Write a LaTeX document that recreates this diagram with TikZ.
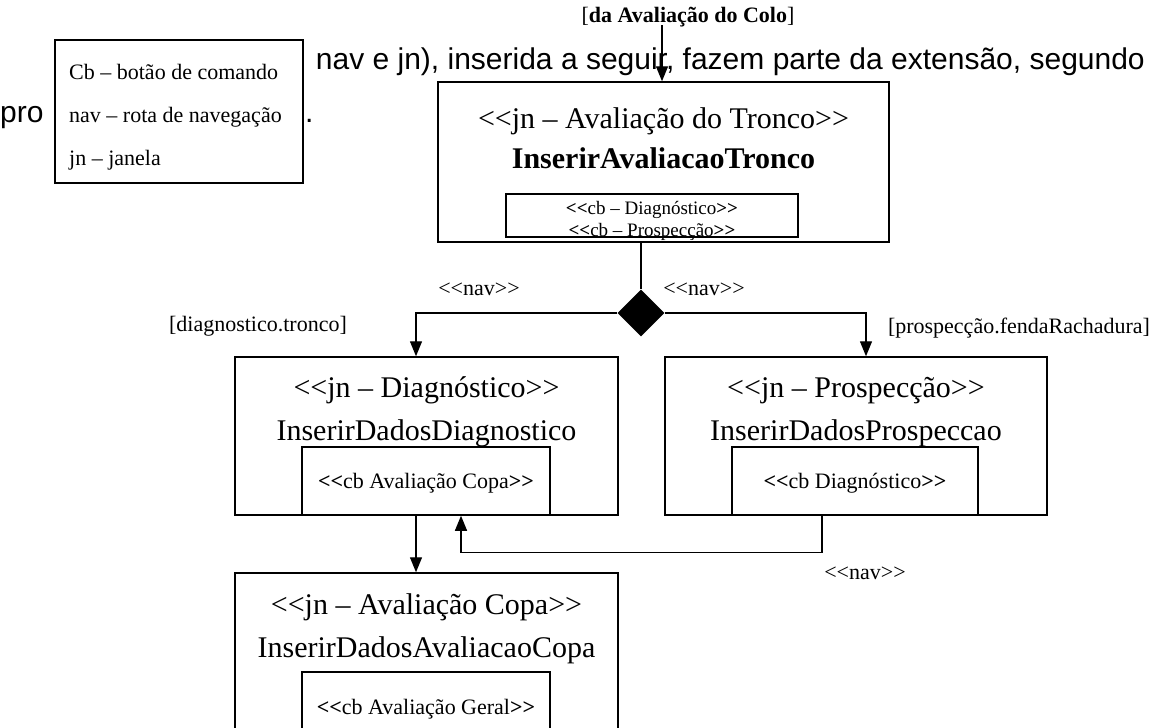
\documentclass[tikz,border=0pt]{standalone}
\usepackage{fontspec}
\setmainfont{Liberation Serif}
\newfontfamily\bodysans{Liberation Sans}
\usetikzlibrary{arrows.meta,shapes.geometric}
% stereotype brackets, kept as two separate characters
\newcommand{\LL}{<\kern0pt<}
\newcommand{\GG}{>\kern0pt>}
\begin{document}
\begin{tikzpicture}[x=1pt,y=-1pt,
  >={Triangle[length=15pt,width=12pt]},
  win/.style={draw,line width=1.5pt,fill=white,inner sep=0pt},
  cbbox/.style={draw,line width=1.5pt,fill=white,inner sep=0pt},
  conn/.style={line width=1.3pt},
  title/.style={font=\fontsize{30}{36}\selectfont,inner sep=0pt,anchor=base},
  btitle/.style={font=\fontsize{30}{36}\selectfont\bfseries,inner sep=0pt,anchor=base},
  cbtext/.style={font=\fontsize{22}{26}\selectfont,inner sep=0pt,anchor=base},
  cbsmall/.style={font=\fontsize{19}{21}\selectfont,inner sep=0pt,anchor=base},
  lbl/.style={font=\fontsize{22}{26}\selectfont,inner sep=0pt,anchor=base},
  legtext/.style={font=\fontsize{22}{26}\selectfont,inner sep=0pt,anchor=base west},
  body/.style={font=\bodysans\fontsize{30}{36}\selectfont,inner sep=0pt}
]
\useasboundingbox (0,0) rectangle (1160,728);
\clip (0,0) rectangle (1160,728);

% running text of the page behind the figure
\node[body,anchor=base east] (line1) at (1145,69) {nav e jn), inserida a seguir, fazem parte da extensão, segundo};
\node[body,anchor=base west] (line2a) at (0,122) {pro};
\node[body,anchor=base west] (line2b) at (305,122) {.};

% legend
\node[draw,line width=1.5pt,fill=white,minimum width=248pt,minimum height=143pt,inner sep=0pt] (legend) at (179,111.5) {};
\node[legtext] (leg1) at (69,79) {Cb – botão de comando};
\node[legtext] (leg2) at (69,122) {nav – rota de navegação};
\node[legtext] (leg3) at (69,165) {jn – janela};

% incoming guard
\node[lbl] (colo) at (688,22) {[\textbf{da Avaliação do Colo}]};
\coordinate (coloin) at (662,25);

% window: trunk evaluation
\node[win,minimum width=451pt,minimum height=160pt] (topwin) at (663.5,162) {};
\node[title] (topT) at (663.5,128) {\LL jn – Avaliação do Tronco\GG};
\node[btitle] (topN) at (663.5,168) {InserirAvaliacaoTronco};
\node[cbbox,minimum width=292pt,minimum height=43pt] (topcb) at (652,215.5) {};
\node[cbsmall] (topcb1) at (652,214) {\textbf{\LL}cb – Diagnóstico\textbf{\GG}};
\node[cbsmall] (topcb2) at (652,236) {\textbf{\LL}cb – Prospecção\textbf{\GG}};

% decision
\node[diamond,fill=black,minimum width=47pt,minimum height=47pt,inner sep=0pt] (dmd) at (641,313) {};
\node[lbl] (navL) at (479,295) {\LL nav\GG};
\node[lbl] (navR) at (704,295) {\LL nav\GG};
\node[lbl] (gL) at (258,331) {[diagnostico.tronco]};
\node[lbl] (gR) at (1019,333) {[prospecção.fendaRachadura]};

% window: diagnosis
\node[win,minimum width=383pt,minimum height=158pt] (diagwin) at (426.5,436) {};
\node[title] (diagT) at (426.5,397) {\LL jn – Diagnóstico\GG};
\node[title] (diagN) at (426.5,440) {InserirDadosDiagnostico};
\node[cbbox,minimum width=248pt,minimum height=68pt] (diagcb) at (426,481) {};
\node[cbtext] (diagcbT) at (426,488) {\textbf{\LL}cb Avaliação Copa\textbf{\GG}};

% window: prospection
\node[win,minimum width=382pt,minimum height=158pt] (prospwin) at (856,436) {};
\node[title] (prospT) at (856,397) {\LL jn – Prospecção\GG};
\node[title] (prospN) at (856,440) {InserirDadosProspeccao};
\node[cbbox,minimum width=246pt,minimum height=68pt] (prospcb) at (855,481) {};
\node[cbtext] (prospcbT) at (855,488) {\textbf{\LL}cb Diagnóstico\textbf{\GG}};

% window: crown evaluation
\node[win,minimum width=383pt,minimum height=158pt] (copawin) at (426.5,652) {};
\node[title] (copaT) at (426.5,614) {\LL jn – Avaliação Copa\GG};
\node[title] (copaN) at (426.5,657) {InserirDadosAvaliacaoCopa};
\node[cbbox,minimum width=248pt,minimum height=60pt] (copacb) at (426,702) {};
\node[cbtext] (copacbT) at (426,714) {\textbf{\LL}cb Avaliação Geral\textbf{\GG}};

\node[lbl] (navB) at (865,579) {\LL nav\GG};

% navigation
\draw[conn,->] (coloin) -- (coloin |- topwin.north);
\draw[conn] (topwin.south -| dmd.north) -- (dmd.north);
\draw[conn,->] (dmd.west) -| ([xshift=-10.5pt]diagwin.north);
\draw[conn,->] (dmd.east) -| ([xshift=10pt]prospwin.north);
\draw[conn,->] ([xshift=-10.5pt]diagwin.south) -- ([xshift=-10.5pt]copawin.north);
\draw[conn,->] ([xshift=-33pt]prospcb.south) -- ++(0,37) -| ([xshift=34.5pt]diagwin.south);
\end{tikzpicture}
\end{document}
